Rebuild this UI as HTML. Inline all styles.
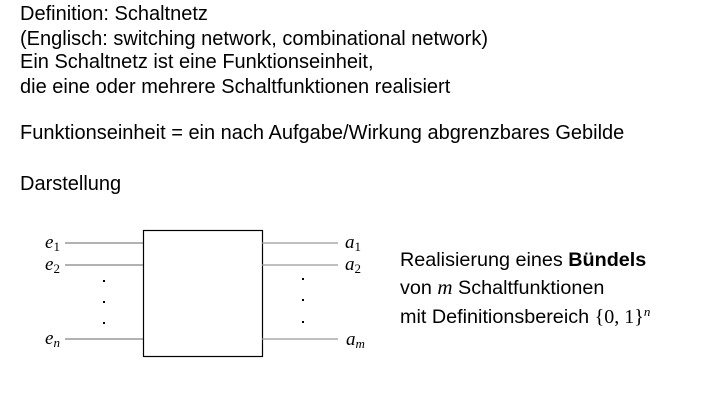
<!DOCTYPE html>
<html><head><meta charset="utf-8"><style>
body{margin:0;width:707px;height:417px;background:#fff;position:relative;font-family:"Liberation Sans",Arial,sans-serif;color:#000;overflow:hidden}
.t{position:absolute;left:20px;font-size:20px;line-height:22px;white-space:nowrap}
.r{position:absolute;left:400px;font-size:19.8px;line-height:22px;white-space:nowrap}
.m{font-family:"Liberation Serif",serif;font-style:italic;font-size:21px;line-height:0}
svg{position:absolute;left:0;top:0}
</style></head><body>
<div class="t" style="top:3px">Definition: Schaltnetz</div>
<div class="t" style="top:28px">(Englisch: switching network, combinational network)</div>
<div class="t" style="top:51px">Ein Schaltnetz ist eine Funktionseinheit,</div>
<div class="t" style="top:76px">die eine oder mehrere Schaltfunktionen realisiert</div>
<div class="t" style="top:122px">Funktionseinheit = ein nach Aufgabe/Wirkung abgrenzbares Gebilde</div>
<div class="t" style="top:173px">Darstellung</div>
<div class="r" style="top:249px">Realisierung eines <b>Bündels</b></div>
<div class="r" style="top:277px">von <span class="m">m</span> Schaltfunktionen</div>
<div class="r" style="top:306px">mit Definitionsbereich <span style="font-family:'Liberation Serif',serif;font-size:20px;line-height:0">{0, 1}<span style="font-style:italic;font-size:13px;position:relative;top:-7px">n</span></span></div>
<svg width="707" height="417">
<rect x="143.5" y="230.5" width="119" height="126" fill="none" stroke="#000" stroke-width="1.2"/>
<g stroke="#666" stroke-width="1">
<line x1="65" y1="243" x2="143" y2="243"/><line x1="65" y1="265" x2="143" y2="265"/><line x1="65" y1="339" x2="143" y2="339"/>
</g>
<g stroke="#999" stroke-width="1.3">
<line x1="262" y1="243" x2="338" y2="243"/><line x1="262" y1="265" x2="338" y2="265"/><line x1="262" y1="339" x2="338" y2="339"/>
</g>
<g fill="#000">
<rect x="103" y="280" width="2" height="2"/><rect x="103" y="301" width="2" height="2"/><rect x="103" y="322" width="2" height="2"/>
<rect x="302" y="278" width="2" height="2"/><rect x="302" y="299" width="2" height="2"/><rect x="302" y="321" width="2" height="2"/>
</g>
<g font-family="Liberation Serif,serif" font-style="italic" font-size="19">
<text x="45" y="248">e<tspan font-size="13" dy="3" font-style="normal">1</tspan></text>
<text x="45" y="270">e<tspan font-size="13" dy="3" font-style="normal">2</tspan></text>
<text x="45" y="344">e<tspan font-size="13" dy="3">n</tspan></text>
<text x="345" y="248">a<tspan font-size="13" dy="3" font-style="normal">1</tspan></text>
<text x="345" y="270">a<tspan font-size="13" dy="3" font-style="normal">2</tspan></text>
<text x="346" y="345">a<tspan font-size="13" dy="3">m</tspan></text>
</g>
</svg>
</body></html>
